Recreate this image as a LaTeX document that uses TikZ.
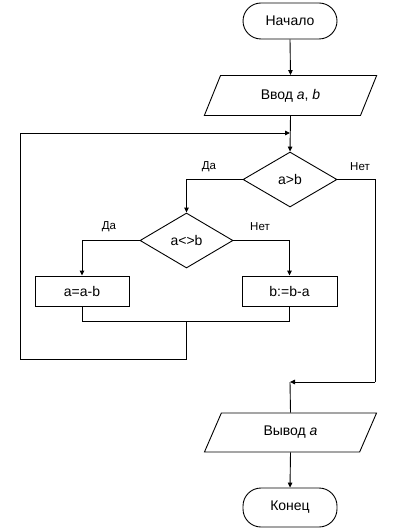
\documentclass[tikz,border=0pt]{standalone}
\usepackage{fontspec}
\setmainfont{Liberation Sans}
\usetikzlibrary{shapes.geometric,arrows.meta}
\begin{document}
\begin{tikzpicture}[x=1pt,y=-1pt,
  every node/.style={font=\fontsize{14}{16}\selectfont, inner sep=0pt},
  base/.style={draw, line width=0.9pt},
  term/.style={base, rectangle, rounded corners=18pt, minimum width=94pt, minimum height=36pt},
  io/.style={base, trapezium, trapezium left angle=62, trapezium right angle=118,
     trapezium stretches=true, minimum width=173pt, minimum height=40pt},
  dec/.style={base, diamond, minimum width=94pt, minimum height=55pt, aspect=1.7},
  proc/.style={base, rectangle, minimum width=94pt, minimum height=30pt},
  lab/.style={font=\fontsize{11.5}{13}\selectfont},
  ln/.style={line width=0.9pt},
  arr/.style={ln, -{Triangle[length=5pt,width=4.5pt]}}
]
\useasboundingbox (0,0) rectangle (417,529);
\node[term] (start) at (290,21) {Начало};
\node[io] (input) at (290.5,95.5) {Ввод \textit{a}, \textit{b}};
\node[dec] (d1) at (290,179.5) {a>b};
\node[dec, minimum width=93pt] (d2) at (186.5,240.5) {a<>b};
\node[proc] (b1) at (82,291) {a=a-b};
\node[proc, minimum width=95pt] (b2) at (289.5,291) {b:=b-a};
\node[io, minimum height=39pt] (output) at (290.5,432.5) {Вывод \textit{a}};
\node[term, minimum height=39pt] (end) at (290,507.5) {Конец};

\node[lab] (l1) at (209,167) {Да};
\node[lab] (l2) at (360,167) {Нет};
\node[lab] (l3) at (109,227) {Да};
\node[lab] (l4) at (260,227) {Нет};

\coordinate (j1) at (290,133);
\coordinate (j2) at (290,382);
\coordinate (m) at (186,321);
\coordinate (m2) at (186,359);
\coordinate (lb) at (20,359);
\coordinate (lt) at (20,133);
\coordinate (r) at (375,382);

\draw[arr] (start.south) -- (input.north);
\draw[arr] (input.south) -- (d1.north);
\draw[arr] (d1.west) -| (d2.north);
\draw[arr] (d2.west) -| (b1.north);
\draw[arr] (d2.east) -| (b2.north);
\draw[ln] (b1.south) |- (m);
\draw[ln] (b2.south) |- (m);
\draw[ln] (m) -- (m2) -- (lb) -- (lt);
\draw[arr] (lt) -- (j1);
\draw[ln] (d1.east) -| (r);
\draw[arr] (r) -- (j2);
\draw[ln] (j2) -- (output.north);
\draw[arr] (output.south) -- (end.north);
\end{tikzpicture}
\end{document}
